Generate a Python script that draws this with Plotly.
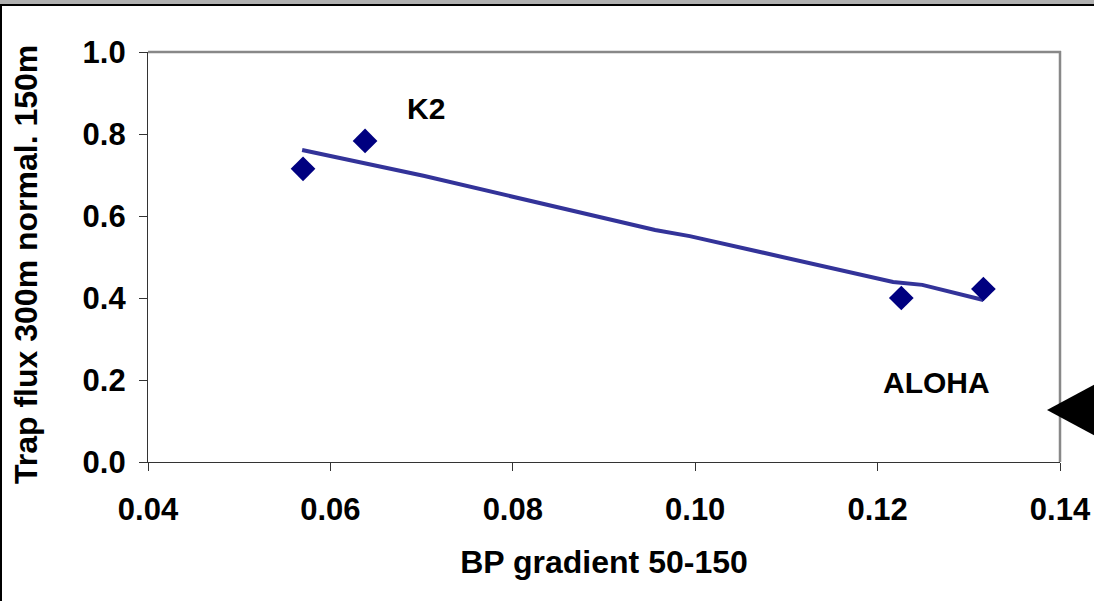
import plotly.graph_objects as go

# Data
bp_gradient = [0.0570, 0.0638, 0.1226, 0.1316]
trap_flux = [0.715, 0.783, 0.400, 0.422]

trend_x = [0.0569, 0.0669, 0.0702, 0.0956, 0.0994, 0.1217, 0.1249, 0.1316]
trend_y = [0.761, 0.712, 0.698, 0.566, 0.551, 0.439, 0.432, 0.395]

label_names = ["K2", "ALOHA"]
label_x = [0.0705, 0.1265]
label_y = [0.861, 0.194]

x_ticks = [0.04, 0.06, 0.08, 0.10, 0.12, 0.14]
y_ticks = [0.0, 0.2, 0.4, 0.6, 0.8, 1.0]

x_title = "BP gradient 50-150"
y_title = "Trap flux 300m normal. 150m"

W, H = 1094, 601
L, R, T, B = 148, 1060, 52, 462

def px(x):
    return (x - L) / (R - L)

def py(y):
    return (B - y) / (B - T)

FONT = "Liberation Sans, Arial, sans-serif"

fig = go.Figure()
fig.add_trace(go.Scatter(x=trend_x, y=trend_y, mode="lines",
                         line=dict(color="#333399", width=4),
                         hoverinfo="skip", showlegend=False))
fig.add_trace(go.Scatter(x=bp_gradient, y=trap_flux, mode="markers",
                         marker=dict(symbol="diamond", size=19, color="#000080",
                                     line=dict(width=0)),
                         showlegend=False))

for name, lx, ly in zip(label_names, label_x, label_y):
    fig.add_annotation(x=lx, y=ly, text="<b>%s</b>" % name, showarrow=False,
                       font=dict(family=FONT, size=30, color="black"),
                       xanchor="center", yanchor="middle")

# y axis title (placed as rotated text so it sits where the original is)
fig.add_annotation(xref="paper", yref="paper", x=px(26), y=py(265),
                   text="<b>%s</b>" % y_title, textangle=-90, showarrow=False,
                   font=dict(family=FONT, size=32, color="black"),
                   xanchor="center", yanchor="middle")

shapes = [
    # top gray band and black frame
    dict(type="rect", xref="paper", yref="paper", x0=px(-5), x1=px(W + 5),
         y0=py(4.5), y1=py(-5), fillcolor="#b0b0b0", line=dict(width=0), layer="above"),
    dict(type="line", xref="paper", yref="paper", x0=px(0), x1=px(W + 5),
         y0=py(5), y1=py(5), line=dict(color="black", width=2)),
    dict(type="line", xref="paper", yref="paper", x0=px(1), x1=px(1),
         y0=py(5), y1=py(H + 5), line=dict(color="black", width=2)),
    # plot area top and right borders (gray)
    dict(type="line", xref="paper", yref="paper", x0=0, x1=px(R + 1),
         y0=py(T), y1=py(T), line=dict(color="#888888", width=2.5)),
    dict(type="line", xref="paper", yref="paper", x0=px(R), x1=px(R),
         y0=py(T - 1), y1=0, line=dict(color="#888888", width=2.5)),
    # black arrowhead at the right
    dict(type="path", xref="paper", yref="paper",
         path="M %f %f L %f %f L %f %f Z" % (px(1047), py(410), px(1112), py(375),
                                             px(1112), py(445)),
         fillcolor="black", line=dict(width=0)),
]

fig.update_layout(
    width=W, height=H,
    margin=dict(l=L, r=W - R, t=T, b=H - B, autoexpand=False),
    paper_bgcolor="white", plot_bgcolor="white",
    font=dict(family=FONT, size=31, color="black"),
    shapes=shapes,
    xaxis=dict(range=[0.04, 0.14], tickvals=x_ticks,
               ticktext=["<b>%.2f</b>" % v for v in x_ticks],
               automargin=False,
               showgrid=False, zeroline=False, showline=True,
               linecolor="#333333", linewidth=1.2,
               ticks="outside", ticklen=8, tickcolor="#333333", tickwidth=1.2,
               ticklabelstandoff=12,
               tickfont=dict(family=FONT, size=31),
               title=dict(text="<b>%s</b>" % x_title,
                          font=dict(family=FONT, size=32), standoff=24)),
    yaxis=dict(range=[0.0, 1.0], tickvals=y_ticks,
               ticktext=["<b>%.1f</b>" % v for v in y_ticks],
               automargin=False,
               showgrid=False, zeroline=False, showline=True,
               linecolor="#333333", linewidth=1.2,
               ticks="outside", ticklen=8, tickcolor="#333333", tickwidth=1.2,
               ticklabelstandoff=7,
               tickfont=dict(family=FONT, size=31)),
)

fig.write_html("out.html")
